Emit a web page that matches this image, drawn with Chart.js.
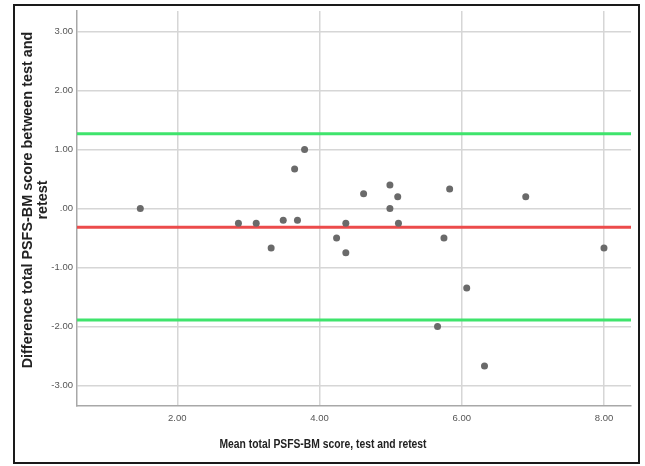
<!DOCTYPE html>
<html>
<head>
<meta charset="utf-8">
<script src="https://cdn.jsdelivr.net/npm/chart.js@4.4.1/dist/chart.umd.min.js"></script>
<style>
  html, body { margin: 0; padding: 0; background: #fff; }
  #frame {
    position: absolute; left: 13px; top: 4px;
    width: 627px; height: 460px;
    box-sizing: border-box; border: 2px solid #1a1a1a;
  }
  #plot { display: block; }
</style>
</head>
<body>
<div id="frame"><canvas id="plot" width="623" height="456"></canvas></div>
<script>
// mean of test/retest (x) and difference (y)
const meanScore = [1.48, 2.86, 3.11, 3.32, 3.49, 3.65, 3.69, 3.79, 4.24, 4.37, 4.37, 4.62,
                   4.99, 4.99, 5.10, 5.11, 5.66, 5.75, 5.83, 6.07, 6.32, 6.90, 8.00];
const diffScore = [0.00, -0.25, -0.25, -0.67, -0.20, 0.67, -0.20, 1.00, -0.50, -0.25, -0.75, 0.25,
                   0.40, 0.00, 0.20, -0.25, -2.00, -0.50, 0.33, -1.35, -2.67, 0.20, -0.67];

const meanDiff = -0.32;
const upperLoA = 1.27;
const lowerLoA = -1.89;

const xTicks = [2, 4, 6, 8];
const yTicks = [-3, -2, -1, 0, 1, 2, 3];
const xRange = [0.59, 8.38];
const yRange = [-3.35, 3.35];

const xTitle = "Mean total PSFS-BM score, test and retest";
const yTitle = ["Difference total PSFS-BM score between test and", "retest"];

function fmt(v) {
    return v.toFixed(2).replace(/^(-?)0\./, '$1.');
}

function hline(y, color) {
    return {
        type: 'line',
        data: [{x: xRange[0], y: y}, {x: xRange[1], y: y}],
        borderColor: color,
        borderWidth: 3,
        pointRadius: 0,
        fill: false
    };
}

const titlePlugin = {
    id: 'axisTitles',
    afterDraw(chart) {
        const c = chart.ctx;
        c.save();
        c.fillStyle = '#222';
        c.textAlign = 'center';
        c.textBaseline = 'middle';
        // narrow bold face, as in the original
        c.save();
        c.translate(308, 439);
        c.scale(0.86, 1);
        c.font = 'bold 12px "Liberation Sans", Arial, sans-serif';
        c.fillText(xTitle, 0, 0);
        c.restore();
        c.translate(13, 194);
        c.rotate(-Math.PI / 2);
        c.font = 'bold 14.4px "Liberation Sans", Arial, sans-serif';
        yTitle.forEach((line, i) => c.fillText(line, 0, i * 15));
        c.restore();
    }
};

const tickFont = { family: '"Liberation Sans", Arial, sans-serif', size: 9.5 };

new Chart(document.getElementById('plot').getContext('2d'), {
    type: 'scatter',
    data: {
        datasets: [
            {
                data: meanScore.map((x, i) => ({x: x, y: diffScore[i]})),
                backgroundColor: '#6a6a6a',
                borderColor: '#6a6a6a',
                pointRadius: 3.5,
                pointBorderWidth: 0
            },
            hline(upperLoA, '#3fe46c'),
            hline(meanDiff, '#ec4b4b'),
            hline(lowerLoA, '#3fe46c')
        ]
    },
    options: {
        responsive: false,
        animation: false,
        layout: { padding: { top: 5, right: 7, left: 0, bottom: 0 } },
        plugins: { legend: { display: false }, tooltip: { enabled: false } },
        scales: {
            x: {
                type: 'linear',
                min: xRange[0], max: xRange[1],
                afterBuildTicks: s => { s.ticks = xTicks.map(v => ({value: v})); },
                afterFit: s => { s.height = 56; s.paddingLeft = 0; s.paddingRight = 0; },
                grid: { color: '#d6d6d6', lineWidth: 1.5, drawTicks: false },
                border: { color: '#a8a8a8', width: 1.5 },
                ticks: { padding: 7, color: '#555', font: tickFont, callback: v => fmt(v) }
            },
            y: {
                type: 'linear',
                min: yRange[0], max: yRange[1],
                afterBuildTicks: s => { s.ticks = yTicks.map(v => ({value: v})); },
                afterFit: s => { s.width = 62; s.paddingTop = 0; s.paddingBottom = 0; },
                grid: { color: '#d6d6d6', lineWidth: 1.5, drawTicks: false },
                border: { color: '#a8a8a8', width: 1.5 },
                ticks: { padding: 4, color: '#555', font: tickFont, callback: v => fmt(v) }
            }
        }
    },
    plugins: [titlePlugin]
});
</script>
</body>
</html>
